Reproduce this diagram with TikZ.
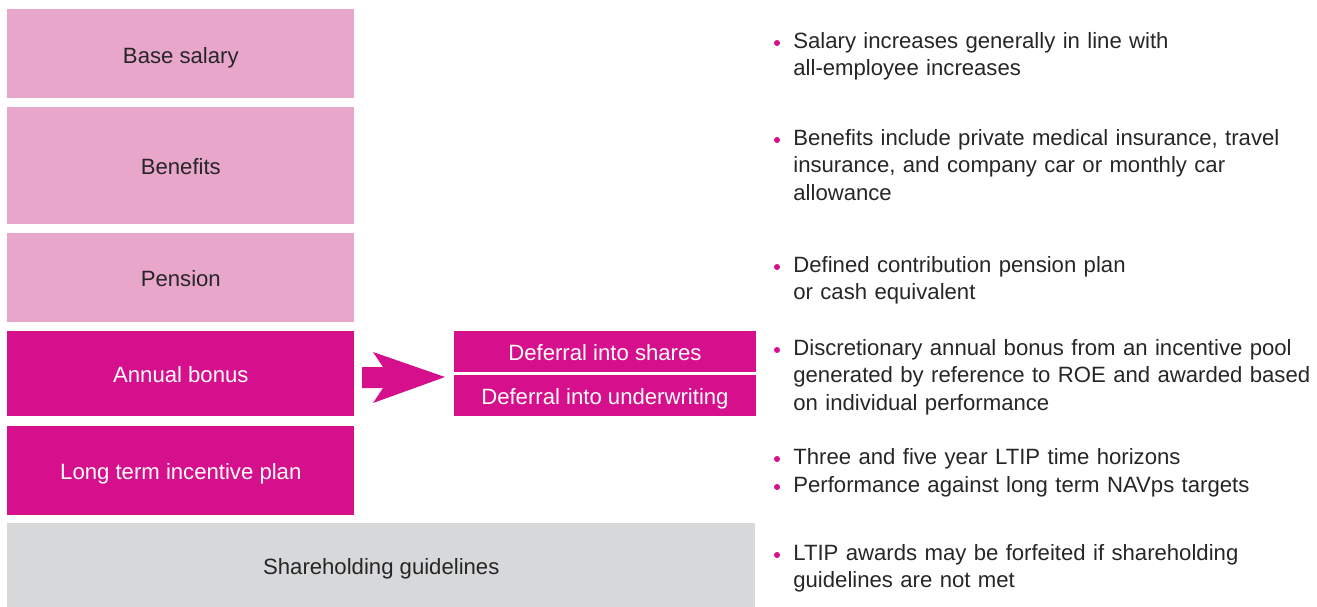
\documentclass[tikz,border=0pt]{standalone}
\usepackage{fontspec}
\setmainfont{Liberation Sans}
\usetikzlibrary{positioning}

\definecolor{softpink}{HTML}{E9A6CB}
\definecolor{bonuspink}{HTML}{D60F8C}
\definecolor{guidegray}{HTML}{D7D8DA}
\definecolor{textgray}{HTML}{262626}

\tikzset{
  paybox/.style={inner sep=0pt, minimum width=6.94cm, text height=2ex, text depth=0pt,
    font=\fontsize{12.6}{14}\selectfont},
  softbox/.style={paybox, fill=softpink, text=textgray},
  hardbox/.style={paybox, fill=bonuspink, text=white},
  greybox/.style={paybox, fill=guidegray, text=textgray},
  bulletdot/.style={circle, fill=bonuspink, inner sep=0pt, minimum size=0.12cm},
  note/.style={anchor=base west, inner sep=0pt, text width=11.5cm, align=left,
    text=textgray, font=\fontsize{12.6}{15.9}\selectfont}
}

\begin{document}
\begin{tikzpicture}[x=0.02cm, y=-0.02cm]
    \useasboundingbox (0,0) rectangle (1317,606);

    % left column
    \node[softbox, minimum height=1.78cm, anchor=north west] (base) at (7,9) {Base salary};
    \node[softbox, minimum height=2.34cm, below=0.16cm of base] (benefits) {Benefits};
    \node[softbox, minimum height=1.78cm, below=0.16cm of benefits] (pension) {Pension};
    \node[hardbox, minimum height=1.70cm, below=0.17cm of pension] (bonus) {Annual bonus};
    \node[hardbox, minimum height=1.78cm, below=0.18cm of bonus] (ltip) {Long term incentive plan};
    \node[greybox, minimum width=14.96cm, minimum height=1.68cm, anchor=north west]
        (share) at ([yshift=-0.16cm]ltip.south west) {Shareholding guidelines};

    % deferral
    \node[hardbox, minimum width=6.04cm, minimum height=0.82cm, anchor=north west]
        (shares) at ([xshift=1.98cm]bonus.north east) {Deferral into shares};
    \node[hardbox, minimum width=6.04cm, minimum height=0.82cm, below=0.05cm of shares]
        (underwriting) {Deferral into underwriting};

    % arrow
    \fill[bonuspink] (362,367) -- (383,367) -- (373,352) -- (445,377)
        -- (373,403) -- (383,388) -- (362,388) -- cycle;

    % bullets
    \node[bulletdot] (b1) at (777,43) {};
    \node[note] (t1) at (793,48) {Salary increases generally in line with\\all-employee increases};
    \node[bulletdot] (b2) at (777,140) {};
    \node[note] (t2) at (793,145) {Benefits include private medical insurance, travel\\insurance, and company car or monthly car\\allowance};
    \node[bulletdot] (b3) at (777,267) {};
    \node[note] (t3) at (793,272) {Defined contribution pension plan\\or cash equivalent};
    \node[bulletdot] (b4) at (777,350) {};
    \node[note] (t4) at (793,355) {Discretionary annual bonus from an incentive pool\\generated by reference to ROE and awarded based\\on individual performance};
    \node[bulletdot] (b5) at (777,459) {};
    \node[note] (t5) at (793,464) {Three and five year LTIP time horizons};
    \node[bulletdot] (b6) at (777,487) {};
    \node[note] (t6) at (793,492) {Performance against long term NAVps targets};
    \node[bulletdot] (b7) at (777,555) {};
    \node[note] (t7) at (793,560) {LTIP awards may be forfeited if shareholding\\guidelines are not met};
\end{tikzpicture}
\end{document}
